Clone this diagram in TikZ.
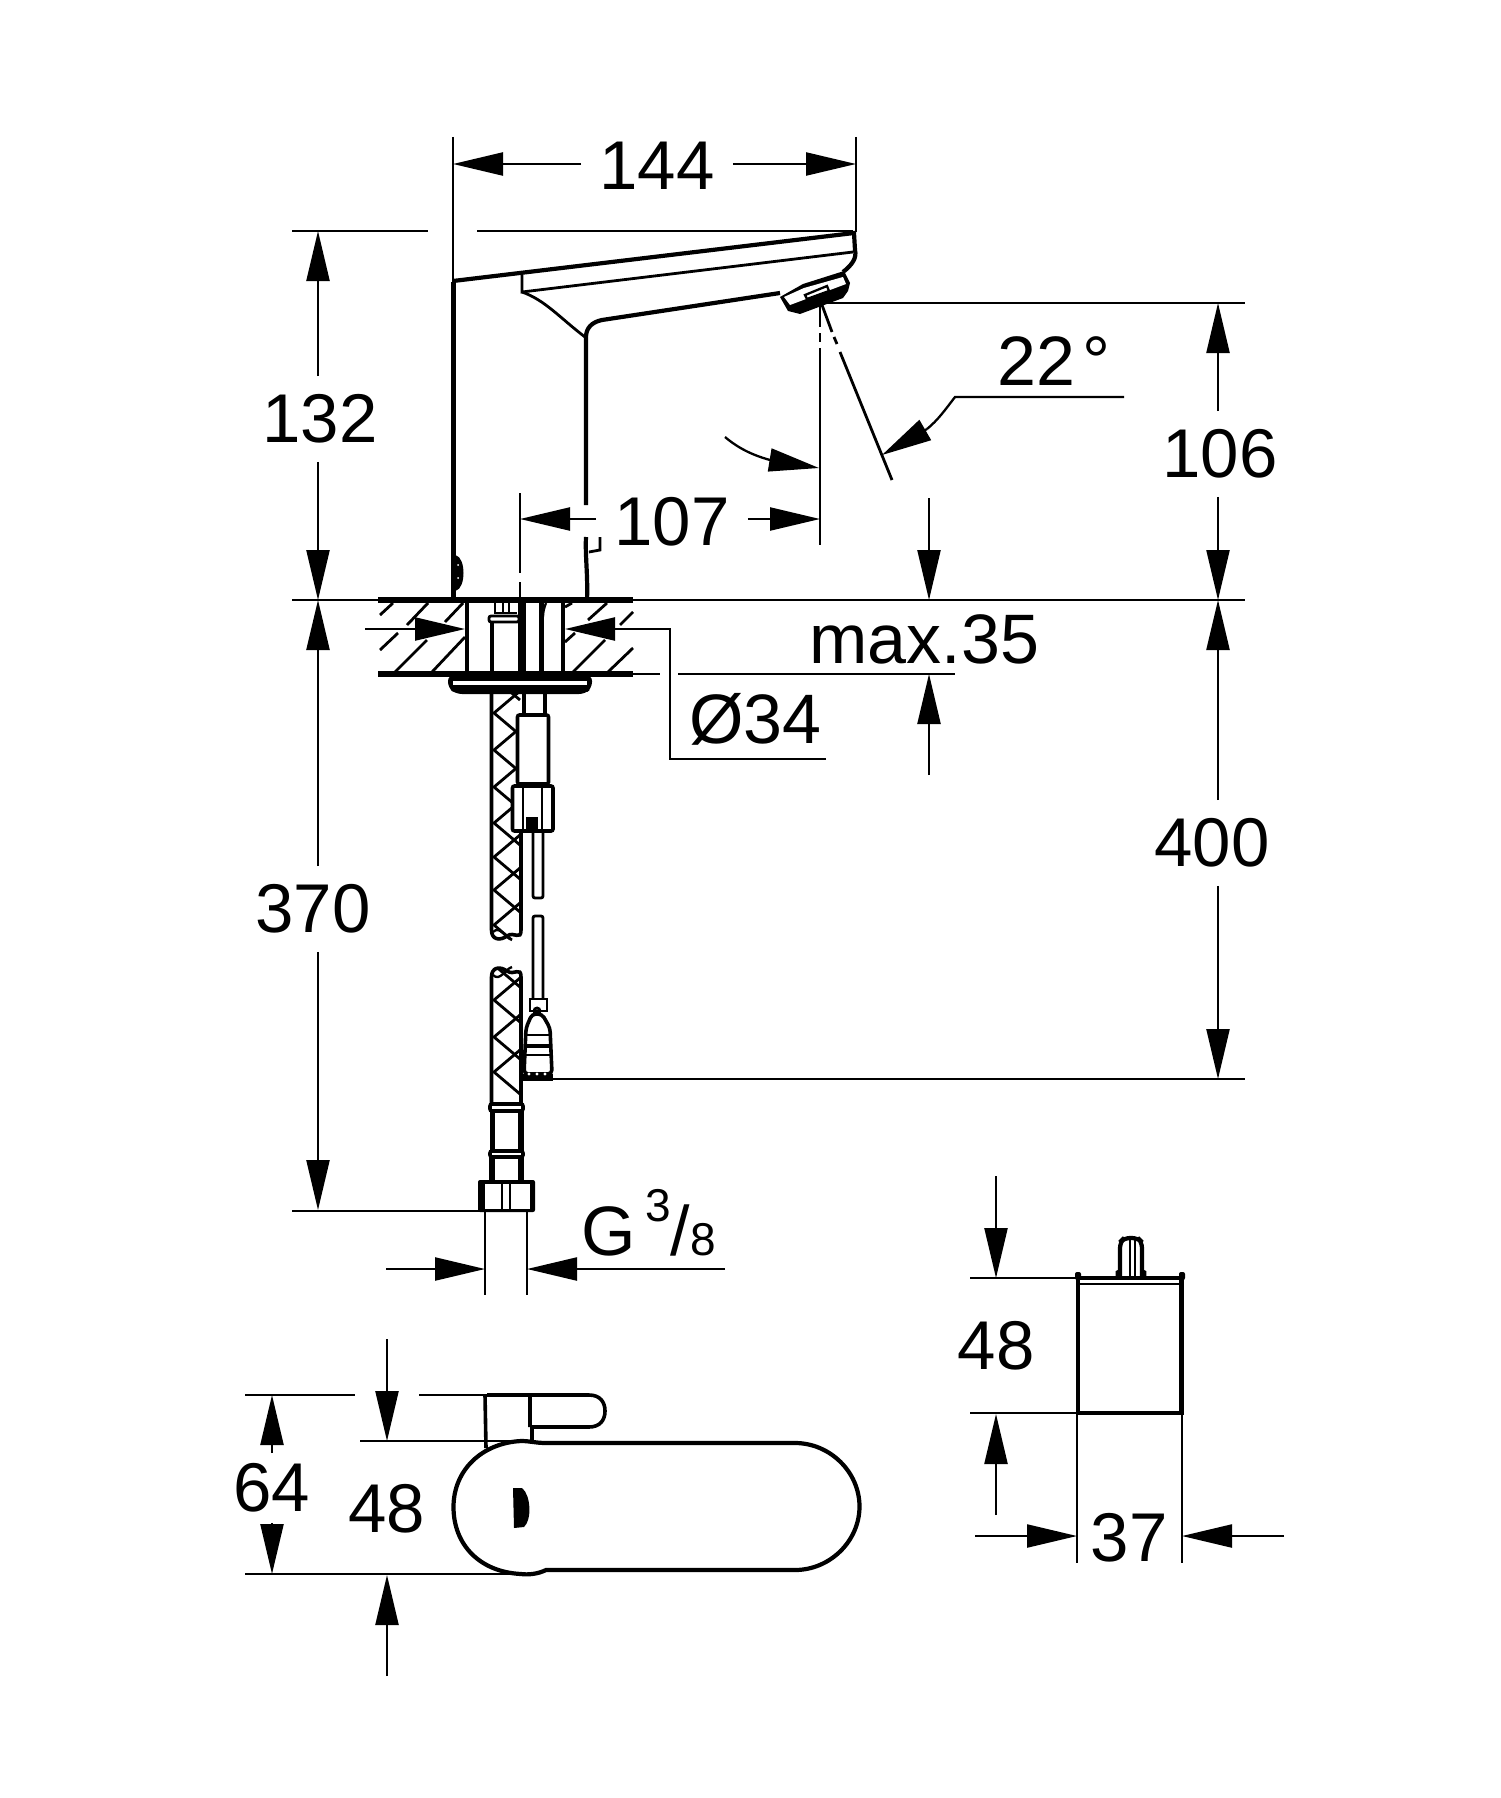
\documentclass[tikz,border=0pt]{standalone}
\usepackage{fontspec}
\setmainfont{Liberation Sans}
\usetikzlibrary{arrows.meta}
\tikzset{
  dimline/.style={line width=1.15pt},
  dimarrow/.style={line width=1.15pt,-{Triangle[length=25pt,width=11.5pt]}},
  extline/.style={line width=1.4pt},
  bodyline/.style={line width=2.1pt},
  heavyline/.style={line width=2.8pt},
  hoseline/.style={line width=1.8pt},
  dimtext/.style={font=\fontsize{34.5}{36}\selectfont,inner sep=9pt},
  basetext/.style={font=\fontsize{35}{36}\selectfont,inner sep=0pt,anchor=base west},
  smalltext/.style={font=\fontsize{23}{24}\selectfont,inner sep=0pt,anchor=base west}
}

\begin{document}
\begin{tikzpicture}[x=0.5pt,y=-0.5pt]
  \useasboundingbox (0,0) rectangle (1500,1798);

  % dimension labels
  \node[dimtext] (t144) at (657,166) {144};
  \node[dimtext] (t107) at (672,522) {107};
  \node[dimtext] (t132) at (320,419) {132};
  \node[dimtext] (t370) at (313,909) {370};
  \node[dimtext] (t106) at (1220,454) {106};
  \node[dimtext] (t400) at (1212,843) {400};
  \node[dimtext,inner sep=5pt] (t64) at (272,1488) {64};
  \node[dimtext] (t48a) at (387,1509) {48};
  \node[dimtext] (t48b) at (996,1346) {48};
  \node[dimtext] (t37) at (1129,1538) {37};
  \node[basetext] (t22) at (997,385) {22\kern3.5pt°};
  \node[basetext] (tmax) at (809,663) {max.35};
  \node[basetext] (tdia) at (689,743) {Ø34};
  \node[basetext] (tg) at (581,1255) {G};
  \node[smalltext] (tthree) at (645,1221) {3};
  \node[basetext] (tslash) at (670,1255) {/};
  \node[smalltext] (teight) at (690,1255) {8};

  % arrow ends
  \coordinate (wl) at (453,164);
  \coordinate (wr) at (856,164);
  \coordinate (sl) at (520,519);
  \coordinate (sr) at (820,519);
  \coordinate (htop) at (318,231);
  \coordinate (hbase) at (318,600);
  \coordinate (hend) at (318,1210);
  \coordinate (rtop) at (1218,303);
  \coordinate (rbase) at (1218,600);
  \coordinate (rend) at (1218,1079);
  \coordinate (bt) at (272,1395);
  \coordinate (bb) at (272,1574);

  % dimension arrows
  \draw[dimarrow] (t144.west |- wl) -- (wl);
  \draw[dimarrow] (t144.east |- wr) -- (wr);
  \draw[dimarrow] (t107.west |- sl) -- (sl);
  \draw[dimarrow] (t107.east |- sr) -- (sr);
  \draw[dimarrow] (htop |- t132.north) -- (htop);
  \draw[dimarrow] (hbase |- t132.south) -- (hbase);
  \draw[dimarrow] (hbase |- t370.north) -- (hbase);
  \draw[dimarrow] (hend |- t370.south) -- (hend);
  \draw[dimarrow] (rtop |- t106.north) -- (rtop);
  \draw[dimarrow] (rbase |- t106.south) -- (rbase);
  \draw[dimarrow] (rbase |- t400.north) -- (rbase);
  \draw[dimarrow] (rend |- t400.south) -- (rend);
  \draw[dimarrow] (t64) -- (bt);
  \draw[dimarrow] (t64) -- (bb);
  \draw[dimarrow] (929,498) -- (929,600);
  \draw[dimarrow] (929,775) -- (929,674);
  \draw[dimarrow] (387,1339) -- (387,1441);
  \draw[dimarrow] (387,1676) -- (387,1575);
  \draw[dimarrow] (996,1176) -- (996,1278);
  \draw[dimarrow] (996,1515) -- (996,1414);
  \draw[dimarrow] (975,1536) -- (1077,1536);
  \draw[dimarrow] (1284,1536) -- (1182,1536);
  \draw[dimarrow] (386,1269) -- (485,1269);
  \draw[dimarrow] (725,1269) -- (527,1269);
  \draw[dimarrow] (365,629) -- (465,629);
  \draw[dimline,-{Triangle[length=25pt,width=11.5pt]}] (826,759) -- (670,759) -- (670,629) -- (565,629);
  \draw[dimline] (1124,397) -- (955,397) .. controls (945,410) and (938,420) .. (927,429);
  \draw[dimarrow] (927,429) -- (882,455);
  \draw[dimline] (725,437) .. controls (738,448) and (752,455) .. (770,460);
  \draw[dimarrow] (770,460) -- (819,468);

  % extension lines
  \draw[extline] (453,137) -- (453,282);
  \draw[extline] (856,137) -- (856,232);
  \draw[extline] (520,493) -- (520,573) (520,582) -- (520,600);
  \draw[extline] (820,348) -- (820,545) (820,305) -- (820,327) (820,333) -- (820,342);
  \draw[extline] (822,305) -- (832,332) (834,337) -- (837,344) (840,352) -- (892,480);
  \draw[extline] (292,231) -- (428,231) (477,231) -- (853,231);
  \draw[extline] (823,303) -- (1245,303);
  \draw[extline] (292,600) -- (378,600) (633,600) -- (1245,600);
  \draw[extline] (633,674) -- (660,674) (678,674) -- (955,674);
  \draw[extline] (553,1079) -- (1245,1079);
  \draw[extline] (292,1211) -- (480,1211);
  \draw[extline] (485,1212) -- (485,1295) (527,1212) -- (527,1295);
  \draw[extline] (245,1395) -- (355,1395) (419,1395) -- (487,1395);
  \draw[extline] (360,1441) -- (416,1441) (416,1441) -- (530,1441);
  \draw[extline] (245,1574) -- (510,1574);
  \draw[extline] (970,1278) -- (1077,1278) (970,1413) -- (1077,1413);
  \draw[extline] (1077,1413) -- (1077,1563) (1182,1413) -- (1182,1563);

  % spout
  \draw[heavyline] (453.5,442) -- (453.5,600);
  \draw[bodyline] (453.5,282) -- (453.5,442);
  \draw[bodyline] (453,281) -- (854,233) -- (855,250) .. controls (857,258) and (852,265) .. (843,272);
  \draw[extline] (522,274) -- (522,292) -- (853,252);
  \draw[extline] (522,292) .. controls (545,300) and (560,318) .. (585,337);
  \draw[bodyline] (780,293) -- (602,320) .. controls (592,322) and (586,328) .. (586,337) -- (586,505);
  \draw[bodyline] (586,537) .. controls (585,555) and (588,575) .. (587,600);
  \draw[extline] (600,537) -- (600,550) -- (589,552);
  \filldraw[fill=black,line width=1pt] (455,556) .. controls (465,558) and (465,588) .. (455,590) -- cycle;
  \fill[white] (458,565) circle (1) (458,578) circle (1);

  % aerator
  \fill (780,297) -- (803,284) -- (844,271) -- (850,283) -- (848,291) -- (843,298) -- (800,314) -- (788,311) -- cycle;
  \fill[white] (784,297) -- (804,288) -- (843,277) -- (846,284) -- (790,305) -- cycle;
  \draw[dimline] (805,295) -- (827,286) -- (829,291) -- (807,299) -- cycle;

  % counter top
  \draw[heavyline] (378,600) -- (633,600) (378,674) -- (633,674);
  \foreach \a/\b/\c/\d in {380/615/393/603,407/625/428/603,445/622/463/603,380/650/398/633,
    395/672/427/640,432/672/465/637,565/607/572/603,588/620/607/603,620/625/633/612,
    565/642/575/633,573/672/605/640,608/672/633/648}
    \draw[extline] (\a,\b) -- (\c,\d);
  \draw[line width=2pt] (467,600) -- (467,674) (492,622) -- (492,674);
  \draw[line width=4pt] (522,600) -- (522,674);
  \draw[line width=2.5pt] (541,600) -- (541,674);
  \draw[line width=1.8pt] (563,600) -- (563,674);
  \draw[dimline] (495,600) -- (495,613) -- (517,613) (503,600) -- (503,613) (509,600) -- (509,613);
  \draw[extline,rounded corners=1] (489,616) rectangle (519,622);
  \draw[dimline] (546,603) .. controls (544,608) and (543,612) .. (543,617);

  % flange
  \fill[rounded corners=3] (448,675) -- (592,675) -- (592,688) -- (585,694) -- (456,694) -- (448,688) -- cycle;
  \fill[white] (453,681) rectangle (587,685);

  % hose
  \begin{scope}
    \clip (491,694) rectangle (521,938);
    \foreach \y in {678,713,750,787,823,857,890,925}
      \draw[extline] (520,\y-22) -- (494,\y) -- (520,\y+22);
  \end{scope}
  \begin{scope}
    \clip (491,967) rectangle (521,1103);
    \foreach \y in {965,1000,1037,1072}
      \draw[extline] (520,\y-22) -- (494,\y) -- (520,\y+22);
  \end{scope}
  \draw[hoseline] (491.5,694) -- (491.5,930) .. controls (491.5,940) and (500,941) .. (507,936) .. controls (514,931) and (521,941) .. (521,930) -- (521,832);
  \draw[dimline] (493,932) .. controls (500,925) and (505,938) .. (512,940);
  \draw[hoseline] (491.5,1103) -- (491.5,977) .. controls (491.5,967) and (500,966) .. (507,971) .. controls (514,976) and (521,966) .. (521,977) -- (521,1103);
  \draw[dimline] (493,975) .. controls (500,982) and (505,969) .. (512,967);
  \draw[hoseline,rounded corners=1] (490,1104) rectangle (523,1111);
  \draw[line width=2.6pt] (492.5,1112) -- (492.5,1150) (521,1112) -- (521,1150);
  \draw[hoseline,rounded corners=1] (490,1151) rectangle (523,1157);
  \draw[line width=2.6pt] (492,1158) -- (492,1181) (521,1158) -- (521,1181);

  % nut
  \fill[rounded corners=1] (478,1180) rectangle (535,1212);
  \fill[white] (485,1184) rectangle (530,1209);
  \draw[dimline] (502,1184) -- (502,1209) (510,1184) -- (510,1209);

  % upper cable connector
  \draw[hoseline] (524,694) -- (524,714) (545,694) -- (545,714);
  \filldraw[fill=white,hoseline,rounded corners=1] (517.5,715) rectangle (548.5,784);
  \filldraw[fill=white,hoseline,rounded corners=1] (512.5,786) rectangle (553,831);
  \draw[dimline] (523,786) -- (523,831) (542,786) -- (542,831);
  \fill (526,817) rectangle (538,829);
  \draw[extline,rounded corners=1] (533,832) -- (533,898) -- (543,898) -- (543,832);

  % lower cable connector
  \draw[extline,rounded corners=1] (533,998) -- (533,916) -- (543,916) -- (543,998);
  \draw[extline] (530,999) rectangle (547,1011);
  \draw[extline] (537,1011) circle (3);
  \filldraw[fill=white,hoseline,rounded corners=2] (532,1014) -- (526,1028) -- (524,1074) -- (552,1074) -- (550,1028) -- (542,1014) -- cycle;
  \draw[extline] (525,1035) -- (551,1035) (525,1055) -- (551,1055);
  \draw[line width=2pt] (525,1046) -- (551,1046);
  \fill (523,1074) rectangle (553,1081);
  \fill[white] (529,1074) circle (1.6) (537,1074) circle (1.6) (545,1074) circle (1.6);

  % handle, top view
  \draw[hoseline] (487,1395) -- (589,1395) .. controls (600,1395) and (605,1402) .. (605,1411) .. controls (605,1420) and (600,1427) .. (589,1427) -- (532,1427) -- (532,1441);
  \draw[hoseline] (485,1395) -- (486,1448) (530,1395) -- (530,1427);
  \filldraw[fill=white,bodyline] (546,1443) -- (795,1443) .. controls (830,1443) and (859.5,1472) .. (859.5,1506.5) .. controls (859.5,1541) and (830,1570) .. (795,1570) -- (546,1570) .. controls (538,1574) and (528,1575) .. (521,1574) .. controls (480,1572) and (453.5,1545) .. (453.5,1507) .. controls (453.5,1470) and (482,1443) .. (521,1441) .. controls (530,1441) and (536,1443) .. (546,1443) -- cycle;
  \fill (513,1488) -- (522,1488) .. controls (531,1495) and (532,1520) .. (524,1527) -- (514,1528) -- cycle;

  % control box
  \draw[bodyline] (1078,1278) rectangle (1181.5,1413);
  \draw[extline] (1078,1284) -- (1181.5,1284);
  \fill[rounded corners=1] (1075,1280) rectangle (1081,1272) (1179,1280) rectangle (1185,1272);
  \draw[bodyline,rounded corners=3] (1120,1277) -- (1120,1242) -- (1124,1238) -- (1138,1238) -- (1142,1242) -- (1142,1277);
  \draw[extline] (1130,1240) -- (1130,1277) (1135,1240) -- (1135,1277);
  \draw[extline] (1117,1277) -- (1117,1272) -- (1121,1270) (1145,1277) -- (1145,1272) -- (1141,1270);
\end{tikzpicture}
\end{document}
